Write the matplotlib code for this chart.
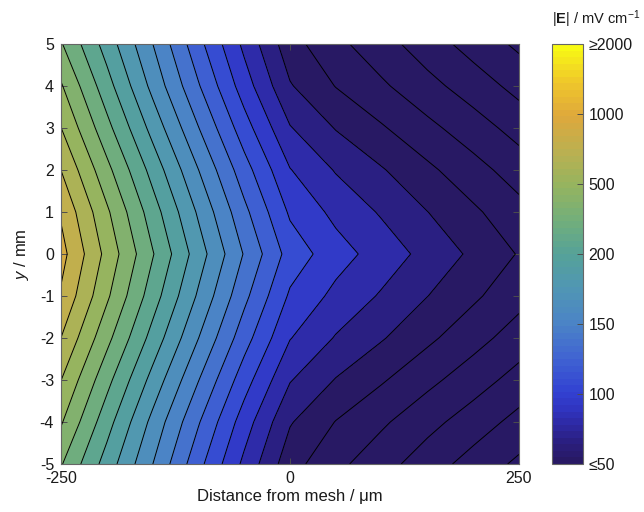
import numpy as np
import matplotlib.pyplot as plt
from matplotlib.colors import LinearSegmentedColormap, Normalize
from matplotlib.cm import ScalarMappable

plt.rcParams['font.family'] = ['Liberation Sans', 'DejaVu Sans']
plt.rcParams['mathtext.fontset'] = 'custom'
plt.rcParams['mathtext.rm'] = 'Liberation Sans'
plt.rcParams['mathtext.it'] = 'Liberation Sans:italic'
plt.rcParams['mathtext.bf'] = 'Liberation Sans:bold'
plt.rcParams['axes.unicode_minus'] = False

# grid
x_um = [-250, -200, -150, -100, -50, 0, 50, 100, 150, 200, 250]
y_mm = [-5, -4, -3, -2, -1, 0, 1, 2, 3, 4, 5]

# |E| on the colour-bar scale (0 = 50, 1 = 100, 2 = 150, 3 = 200, 4 = 500, 5 = 1000, 6 = 2000 mV/cm)
# one row per y, one column per x
e_scale = [
    [3.74, 3.02, 2.29, 1.52, 0.79, 0.11, -0.21, -0.46, -0.72, -0.97, -1.20],
    [4.03, 3.26, 2.49, 1.74, 1.00, 0.31, -0.01, -0.24, -0.48, -0.71, -0.95],
    [4.29, 3.52, 2.76, 2.01, 1.27, 0.59, 0.27, 0.03, -0.21, -0.44, -0.68],
    [4.57, 3.80, 3.04, 2.29, 1.55, 0.87, 0.55, 0.31, 0.06, -0.18, -0.42],
    [4.82, 4.05, 3.28, 2.53, 1.79, 1.10, 0.78, 0.54, 0.29, 0.05, -0.19],
    [4.96, 4.20, 3.45, 2.71, 1.98, 1.31, 0.98, 0.73, 0.48, 0.23, -0.02],
    [4.82, 4.05, 3.28, 2.53, 1.79, 1.10, 0.78, 0.54, 0.29, 0.05, -0.19],
    [4.57, 3.80, 3.04, 2.29, 1.55, 0.87, 0.55, 0.31, 0.06, -0.18, -0.42],
    [4.29, 3.52, 2.76, 2.01, 1.27, 0.59, 0.27, 0.03, -0.21, -0.44, -0.68],
    [4.03, 3.26, 2.49, 1.74, 1.00, 0.31, -0.01, -0.24, -0.48, -0.71, -0.95],
    [3.74, 3.02, 2.29, 1.52, 0.79, 0.11, -0.21, -0.46, -0.72, -0.97, -1.20],
]

cbar_pos = [0, 1, 2, 3, 4, 5, 6]
cbar_labels = ['≤50', '100', '150', '200', '500', '1000', '≥2000']

# colour map along the bar
cmap_pos = [0.0, 0.25, 0.5, 0.75, 1.0, 1.5, 2.0, 2.5, 3.0, 3.5, 4.0, 4.5, 5.0, 5.5, 6.0]
cmap_rgb = [(40, 25, 100), (42, 30, 125), (45, 40, 160), (48, 52, 192), (50, 66, 210),
            (64, 100, 210), (75, 132, 198), (80, 150, 180), (86, 162, 152), (115, 175, 122),
            (150, 180, 95), (188, 176, 80), (222, 168, 60), (240, 200, 42), (248, 250, 20)]
cmap = LinearSegmentedColormap.from_list(
    'efield', [(p / 6, tuple(c / 255 for c in rgb)) for p, rgb in zip(cmap_pos, cmap_rgb)], N=64)
norm = Normalize(0, 6)

levels = np.arange(-5, 22) * 2 / 7
band_colors = [cmap(norm(max(v, 0))) for v in levels[:-1]]

X, Y = np.meshgrid(x_um, y_mm)
Z = np.array(e_scale)

fig = plt.figure(figsize=(6.44, 5.12), dpi=100)
ax = fig.add_axes([61 / 644, 48 / 512, 458 / 644, 420 / 512])
ax.contourf(X, Y, Z, levels=levels, colors=band_colors)
ax.contour(X, Y, Z, levels=levels, colors='k', linewidths=0.7, linestyles='solid')

ax.set_xlim(-250, 250)
ax.set_ylim(-5, 5)
ax.set_xticks([-250, 0, 250])
ax.set_yticks(range(-5, 6))
ax.tick_params(direction='in', top=True, right=True, length=4, width=0.7,
               labelsize=11.5, color='0.3', labelcolor='0.1', pad=5)
for s in ax.spines.values():
    s.set_color('0.4')
    s.set_linewidth(0.8)
ax.set_xlabel('Distance from mesh / μm', fontsize=12, color='0.1', labelpad=2)
ax.set_ylabel(r'$\it{y}$ / mm', fontsize=12, color='0.1', labelpad=6)

cax = fig.add_axes([552 / 644, 48 / 512, 31 / 644, 420 / 512])
cb = fig.colorbar(ScalarMappable(norm=norm, cmap=cmap), cax=cax, ticks=cbar_pos)
cb.set_ticklabels(cbar_labels)
cax.tick_params(direction='in', length=4, width=0.7, labelsize=11.5,
                color='0.3', labelcolor='0.1', pad=4)
cb.outline.set_edgecolor('0.4')
cb.outline.set_linewidth(0.8)
fig.text(552 / 644, 1 - 19 / 512, r'$|\mathbf{E}|$ / mV cm$^{-1}$',
         fontsize=10.5, color='0.1', ha='left', va='center')

fig.savefig('out.png', dpi=100)
